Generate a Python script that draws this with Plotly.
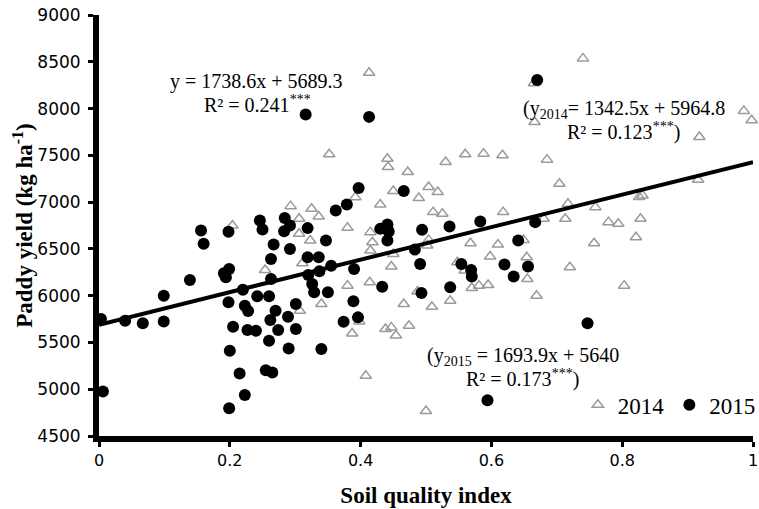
import plotly.graph_objects as go

# 2014 observations (open grey triangles)
x2014 = [0.204, 0.352, 0.441, 0.442, 0.450, 0.392, 0.430, 0.293, 0.325, 0.336, 0.306, 0.306,
         0.380, 0.323, 0.415, 0.418, 0.415, 0.450, 0.447, 0.254, 0.311, 0.380, 0.414, 0.307,
         0.340, 0.398, 0.387, 0.438, 0.447, 0.454, 0.474, 0.408,
         0.560, 0.588, 0.617, 0.685, 0.530, 0.472, 0.504, 0.518, 0.489, 0.511, 0.525, 0.618,
         0.680, 0.504, 0.502, 0.568, 0.610, 0.649, 0.598, 0.654, 0.548, 0.559, 0.655, 0.570,
         0.581, 0.595, 0.669, 0.466, 0.509, 0.537, 0.500, 0.487,
         0.704, 0.717, 0.759, 0.831, 0.826, 0.916, 0.713, 0.779, 0.794, 0.828, 0.821, 0.757,
         0.720, 0.803, 0.740, 0.986, 0.998, 0.918, 0.413, 0.666, 0.665]
y2014 = [6750, 7511, 7464, 7375, 7118, 7053, 6975, 6957, 6929, 6846, 6822, 6661,
         6725, 6589, 6679, 6571, 6482, 6446, 6311, 6275, 6346, 6107, 6143, 5839,
         5911, 5725, 5596, 5643, 5661, 5575, 5679, 5143,
         7511, 7518, 7500, 7454, 7429, 7321, 7161, 7107, 7043, 6893, 6875, 6893,
         6822, 6596, 6536, 6561, 6546, 6596, 6418, 6411, 6357, 6268, 6179, 6082,
         6107, 6114, 6000, 5911, 5882, 5946, 4768, 6045,
         7196, 6982, 6946, 7071, 7054, 7239, 6822, 6786, 6768, 6822, 6625, 6561,
         6304, 6107, 8536, 7975, 7875, 7696, 8382, 7857, 8270]

# 2015 observations (filled black circles)
x2015 = [0.003, 0.006, 0.040, 0.067, 0.099, 0.099, 0.139, 0.156, 0.160, 0.198, 0.191, 0.199,
         0.194, 0.220, 0.198, 0.223, 0.228, 0.205, 0.227, 0.240, 0.200, 0.215, 0.223, 0.199,
         0.246, 0.250, 0.284, 0.292, 0.283, 0.319, 0.347, 0.267, 0.292, 0.263, 0.319, 0.336,
         0.355, 0.390, 0.430, 0.441, 0.443, 0.441, 0.263, 0.320, 0.337, 0.326, 0.329, 0.350,
         0.433, 0.242, 0.260, 0.389, 0.301, 0.270, 0.262, 0.289, 0.396, 0.374, 0.274, 0.301,
         0.260, 0.290, 0.340, 0.255, 0.265,
         0.397, 0.379, 0.362, 0.316, 0.413, 0.670,
         0.466, 0.536, 0.583, 0.494, 0.667, 0.483, 0.641, 0.491, 0.554, 0.569, 0.570, 0.620,
         0.656, 0.634, 0.537, 0.493, 0.594, 0.747]
y2015 = [5750, 4975, 5732, 5704, 6000, 5725, 6168, 6696, 6554, 6683, 6239, 6286,
         6196, 6064, 5929, 5893, 5835, 5668, 5632, 5625, 5411, 5168, 4939, 4797,
         6804, 6707, 6829, 6750, 6689, 6722, 6589, 6546, 6500, 6393, 6411, 6411,
         6321, 6286, 6714, 6761, 6686, 6589, 6179, 6222, 6261, 6125, 6036, 6036,
         6096, 5993, 5993, 5940, 5911, 5839, 5739, 5775, 5768, 5721, 5632, 5643,
         5518, 5436, 5429, 5204, 5178,
         7150, 6975, 6911, 7936, 7911, 8304,
         7118, 6739, 6793, 6704, 6786, 6493, 6589, 6339, 6339, 6275, 6204, 6332,
         6311, 6204, 6089, 6029, 4882, 5704]

# pooled regression y = slope*x + intercept
slope = 1738.6
intercept = 5689.3
line_x = [0, 1]
line_y = [intercept + slope * v for v in line_x]

x_ticks = [0, 0.2, 0.4, 0.6, 0.8, 1]
x_tick_labels = ["0", "0.2", "0.4", "0.6", "0.8", "1"]
y_ticks = [4500, 5000, 5500, 6000, 6500, 7000, 7500, 8000, 8500, 9000]

serif = "Liberation Serif, Times New Roman, serif"
sans = "DejaVu Sans, sans-serif"

fig = go.Figure()
fig.add_trace(go.Scatter(
    x=x2014, y=y2014, mode="markers", name="2014", cliponaxis=False,
    marker=dict(symbol="triangle-up-open", size=10, color="#9a9a9a",
                line=dict(width=1.5, color="#9a9a9a")),
))
fig.add_trace(go.Scatter(
    x=x2015, y=y2015, mode="markers", name="2015", cliponaxis=False,
    marker=dict(symbol="circle", size=12, color="black"),
))
fig.add_trace(go.Scatter(
    x=line_x, y=line_y, mode="lines", showlegend=False,
    line=dict(color="black", width=4),
))

ann_font = dict(family=serif, size=20, color="black")
annotations = [
    dict(x=0.241, y=8290, text="y = 1738.6x + 5689.3"),
    dict(x=0.242, y=8050, text="R² = 0.241<sup>***</sup>"),
    dict(x=0.802, y=7995, text="(y<sub>2014</sub>= 1342.5x + 5964.8"),
    dict(x=0.802, y=7755, text="R² = 0.123<sup>***</sup>)"),
    dict(x=0.649, y=5350, text="(y<sub>2015</sub> = 1693.9x + 5640"),
    dict(x=0.647, y=5115, text="R² = 0.173<sup>***</sup>)"),
]
for a in annotations:
    a.update(xref="x", yref="y", showarrow=False, font=ann_font, xanchor="center", yanchor="middle")

fig.update_layout(
    width=759, height=509,
    margin=dict(l=99, r=6, t=15, b=73, autoexpand=False),
    paper_bgcolor="white", plot_bgcolor="white",
    showlegend=True,
    legend=dict(orientation="h", x=1.012, xanchor="right", y=0.074, yanchor="middle",
                font=dict(family=serif, size=23, color="black"),
                bgcolor="rgba(0,0,0,0)", itemwidth=30, tracegroupgap=0),
    annotations=annotations,
)
fig.update_xaxes(
    range=[0, 1], tickvals=x_ticks, ticktext=x_tick_labels, automargin=False,
    showgrid=False, zeroline=False, showline=True, linecolor="black", linewidth=6,
    ticks="outside", ticklen=5, tickwidth=3, tickcolor="black",
    tickfont=dict(family=sans, size=16, color="black"),
    title=dict(text="<b>Soil quality index</b>", font=dict(family=serif, size=23, color="black"), standoff=20),
)
fig.update_yaxes(
    range=[4500, 9000], tickvals=y_ticks, automargin=False,
    showgrid=False, zeroline=False, showline=True, linecolor="black", linewidth=6,
    ticks="outside", ticklen=5, tickwidth=3, tickcolor="black", ticklabelstandoff=4,
    tickfont=dict(family=sans, size=17, color="black"),
    title=dict(text="<b>Paddy yield (kg ha<sup>-1</sup>)</b>", font=dict(family=serif, size=23, color="black"), standoff=0),
)

fig.write_html("out.html", config={"displayModeBar": False},
               post_script="document.body.style.margin='0px';")
